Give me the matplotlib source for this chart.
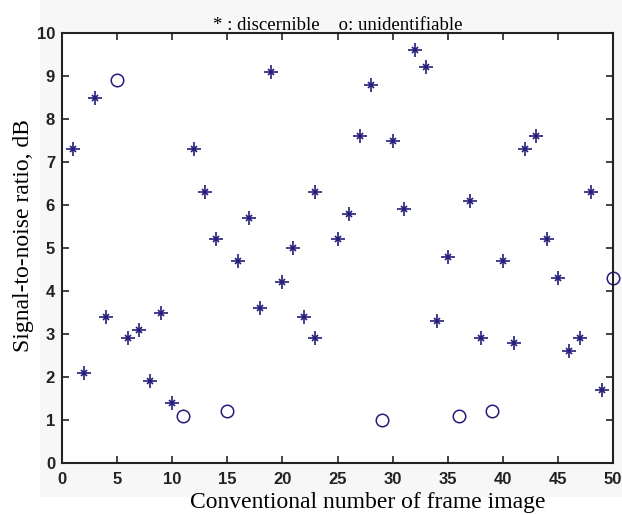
import matplotlib
matplotlib.use("Agg")
import matplotlib.pyplot as plt
from matplotlib.patches import Rectangle
from matplotlib import font_manager

# Data
star_x = [1, 2, 3, 4, 6, 7, 8, 9, 10, 12, 13, 14, 16, 17, 18, 19, 20, 21, 22, 23, 23,
          25, 26, 27, 28, 30, 31, 32, 33, 34, 35, 37, 38, 40, 41, 42, 43, 44, 45, 46, 47, 48, 49]
star_y = [7.3, 2.1, 8.5, 3.4, 2.9, 3.1, 1.9, 3.5, 1.4, 7.3, 6.3, 5.2, 4.7, 5.7, 3.6, 9.1, 4.2, 5.0, 3.4, 6.3, 2.9,
          5.2, 5.8, 7.6, 8.8, 7.5, 5.9, 9.6, 9.2, 3.3, 4.8, 6.1, 2.9, 4.7, 2.8, 7.3, 7.6, 5.2, 4.3, 2.6, 2.9, 6.3, 1.7]
circ_x = [5, 11, 15, 29, 36, 39, 50]
circ_y = [8.9, 1.1, 1.2, 1.0, 1.1, 1.2, 4.3]

xticks = list(range(0, 51, 5))
yticks = list(range(0, 11))

avail = {f.name for f in font_manager.fontManager.ttflist}
tick_font = "Liberation Sans Narrow" if "Liberation Sans Narrow" in avail else "Liberation Sans"

fig = plt.figure(figsize=(6.22, 5.15), dpi=100)
fig.patch.set_facecolor("white")
# subtle grey scan background behind the axes area
fig.add_artist(Rectangle((40 / 622, 1 - 497 / 515), 1 - 40 / 622, 497 / 515,
                         transform=fig.transFigure, facecolor="#f7f7f7",
                         edgecolor="none", zorder=0))

ax = fig.add_axes([62 / 622, 52 / 515, 551 / 622, 430 / 515])
ax.set_facecolor("white")

col = "#241c7a"
ax.plot(star_x, star_y, linestyle="none", marker="+", markersize=10,
        markeredgewidth=1.2, color=col, clip_on=False)
ax.plot(star_x, star_y, linestyle="none", marker="x", markersize=5,
        markeredgewidth=1.2, color=col, clip_on=False)
ax.plot(circ_x, circ_y, linestyle="none", marker="o", markersize=9,
        markerfacecolor="none", markeredgewidth=1.1, color=col, clip_on=False)

ax.set_xlim(0, 50)
ax.set_ylim(0, 10)
ax.set_xticks(xticks)
ax.set_yticks(yticks)
ax.tick_params(direction="in", top=True, right=True, length=5, width=1.2,
               labelsize=12, colors="#222222")
ax.tick_params(axis="x", pad=6.5)
ax.tick_params(axis="y", pad=5)
for lab in ax.get_xticklabels() + ax.get_yticklabels():
    lab.set_fontfamily(tick_font)
    lab.set_fontweight("bold")
for s in ax.spines.values():
    s.set_linewidth(1.5)
    s.set_color("#222222")

ax.set_title("* : discernible    o: unidentifiable", fontfamily="Liberation Serif",
             fontsize=13.5, pad=2.5)
ax.set_xlabel("Conventional number of frame image", fontfamily="Liberation Serif",
              fontsize=17)
ax.set_ylabel("Signal-to-noise ratio, dB", fontfamily="Liberation Serif",
              fontsize=17)
ax.xaxis.set_label_coords(0.554, -0.068)
ax.yaxis.set_label_coords(-0.05, 0.53)

fig.savefig("out.png", dpi=100)
